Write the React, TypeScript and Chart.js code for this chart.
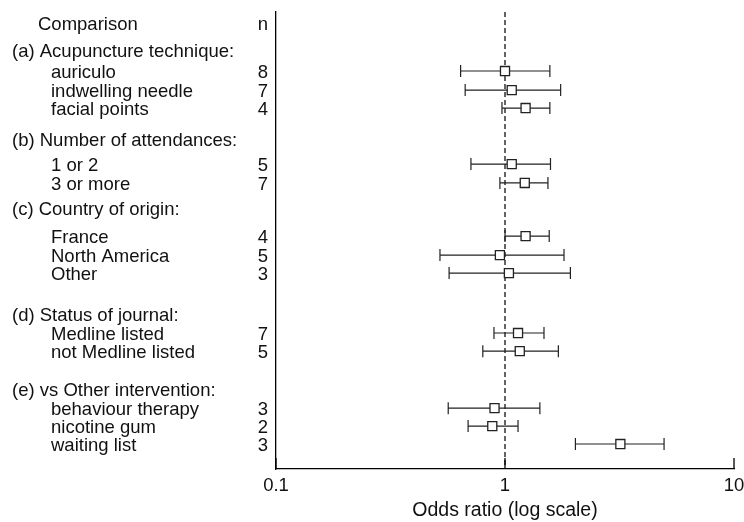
import React, { useEffect, useRef } from "react";
import { Chart, registerables } from "chart.js";

Chart.register(...registerables);

const headerLabel = "Comparison";
const headerN = "n";
const headerRow = -2.59;

const groupLabels = [
  "(a) Acupuncture technique:",
  "(b) Number of attendances:",
  "(c) Country of origin:",
  "(d) Status of journal:",
  "(e) vs Other intervention:",
];
const groupRows = [-1.13, 3.68, 7.4, 13.14, 17.19];

const itemLabels = [
  "auriculo",
  "indwelling needle",
  "facial points",
  "1 or 2",
  "3 or more",
  "France",
  "North America",
  "Other",
  "Medline listed",
  "not Medline listed",
  "behaviour therapy",
  "nicotine gum",
  "waiting list",
];
const itemRows = [0, 1.03, 2.0, 5.03, 6.05, 8.92, 9.95, 10.92, 14.16, 15.14, 18.22, 19.19, 20.16];
const nValues = [8, 7, 4, 5, 7, 4, 5, 3, 7, 5, 3, 2, 3];
const oddsRatio = [1.0, 1.07, 1.23, 1.07, 1.22, 1.23, 0.95, 1.04, 1.14, 1.16, 0.9, 0.88, 3.19];
const ciLow = [0.64, 0.67, 0.97, 0.71, 0.95, 1.0, 0.52, 0.57, 0.895, 0.8, 0.565, 0.69, 2.03];
const ciHigh = [1.57, 1.75, 1.57, 1.58, 1.54, 1.56, 1.81, 1.93, 1.48, 1.71, 1.42, 1.14, 4.95];

const xTicks = [0.1, 1, 10];
const xTitle = "Odds ratio (log scale)";
const nullValue = 1;

const FONT = '"Liberation Sans", Arial, sans-serif';
const INK = "#111";

const forestPlugin = {
  id: "forest",
  beforeDatasetsDraw(chart: any) {
    const { ctx, chartArea, scales } = chart;
    const xs = scales.x;
    const ys = scales.y;
    ctx.save();
    const x1 = xs.getPixelForValue(nullValue);
    ctx.strokeStyle = "#111";
    ctx.lineWidth = 1.3;
    ctx.setLineDash([5, 3]);
    ctx.beginPath();
    ctx.moveTo(x1, chartArea.top);
    ctx.lineTo(x1, chartArea.bottom);
    ctx.stroke();
    ctx.setLineDash([]);
    ctx.strokeStyle = "#222";
    ctx.lineWidth = 1.2;
    for (let i = 0; i < itemRows.length; i++) {
      const y = ys.getPixelForValue(itemRows[i]);
      const a = xs.getPixelForValue(ciLow[i]);
      const b = xs.getPixelForValue(ciHigh[i]);
      ctx.beginPath();
      ctx.moveTo(a, y);
      ctx.lineTo(b, y);
      ctx.moveTo(a, y - 6);
      ctx.lineTo(a, y + 6);
      ctx.moveTo(b, y - 6);
      ctx.lineTo(b, y + 6);
      ctx.stroke();
    }
    ctx.strokeStyle = "#000";
    ctx.lineWidth = 1.3;
    for (const t of xTicks) {
      const x = xs.getPixelForValue(t);
      ctx.beginPath();
      ctx.moveTo(x, chartArea.bottom);
      ctx.lineTo(x, chartArea.bottom - 11);
      ctx.stroke();
    }
    ctx.restore();
  },
  afterDraw(chart: any) {
    const { ctx, scales } = chart;
    const ys = scales.y;
    const off = 1.5;
    ctx.save();
    ctx.font = `18.5px ${FONT}`;
    ctx.fillStyle = INK;
    ctx.textBaseline = "middle";
    ctx.textAlign = "left";
    ctx.fillText(headerLabel, 38, ys.getPixelForValue(headerRow) + off);
    groupLabels.forEach((g, i) => ctx.fillText(g, 12, ys.getPixelForValue(groupRows[i]) + off));
    itemLabels.forEach((l, i) => ctx.fillText(l, 51, ys.getPixelForValue(itemRows[i]) + off));
    ctx.textAlign = "right";
    ctx.fillText(headerN, 268, ys.getPixelForValue(headerRow) + off);
    nValues.forEach((n, i) => ctx.fillText(String(n), 268, ys.getPixelForValue(itemRows[i]) + off));
    ctx.restore();
  },
};

export default function App() {
  const ref = useRef<HTMLCanvasElement | null>(null);
  useEffect(() => {
    if (!ref.current) return;
    const chart = new Chart(ref.current, {
      type: "scatter",
      data: {
        datasets: [
          {
            data: oddsRatio.map((v, i) => ({ x: v, y: itemRows[i] })),
            pointStyle: "rect",
            pointRadius: 6.4,
            pointHoverRadius: 6.4,
            backgroundColor: "#fff",
            borderColor: "#222",
            borderWidth: 1.3,
            showLine: false,
          },
        ],
      },
      options: {
        animation: false,
        responsive: false,
        devicePixelRatio: 1,
        layout: { padding: { left: 276, right: 10, top: 12, bottom: 0 } },
        plugins: { legend: { display: false }, tooltip: { enabled: false } },
        scales: {
          x: {
            type: "logarithmic",
            min: 0.1,
            max: 10,
            afterBuildTicks: (s: any) => {
              s.ticks = xTicks.map((v) => ({ value: v }));
            },
            afterFit: (s: any) => {
              s.height = 53;
              s.paddingLeft = 0;
              s.paddingRight = 0;
            },
            ticks: {
              callback: (v: any) => String(v),
              font: { family: FONT, size: 18.5 },
              color: INK,
              padding: 6,
              maxRotation: 0,
              autoSkip: false,
            },
            grid: { display: false, drawTicks: false },
            border: { display: true, color: "#000", width: 1.3 },
            title: {
              display: true,
              text: xTitle,
              font: { family: FONT, size: 19.5 },
              color: INK,
              padding: { top: 4, bottom: 0 },
            },
          },
          y: {
            type: "linear",
            reverse: true,
            min: -3.19,
            max: 21.51,
            ticks: { display: false },
            grid: { display: false, drawTicks: false },
            border: { display: true, color: "#000", width: 1.3 },
            afterFit: (s: any) => {
              s.width = 0;
            },
          },
        },
      },
      plugins: [forestPlugin],
    });
    return () => chart.destroy();
  }, []);
  return (
    <div style={{ position: "absolute", left: 0, top: 0, width: 744, height: 522, background: "#fff" }}>
      <canvas ref={ref} width={744} height={522} />
    </div>
  );
}
